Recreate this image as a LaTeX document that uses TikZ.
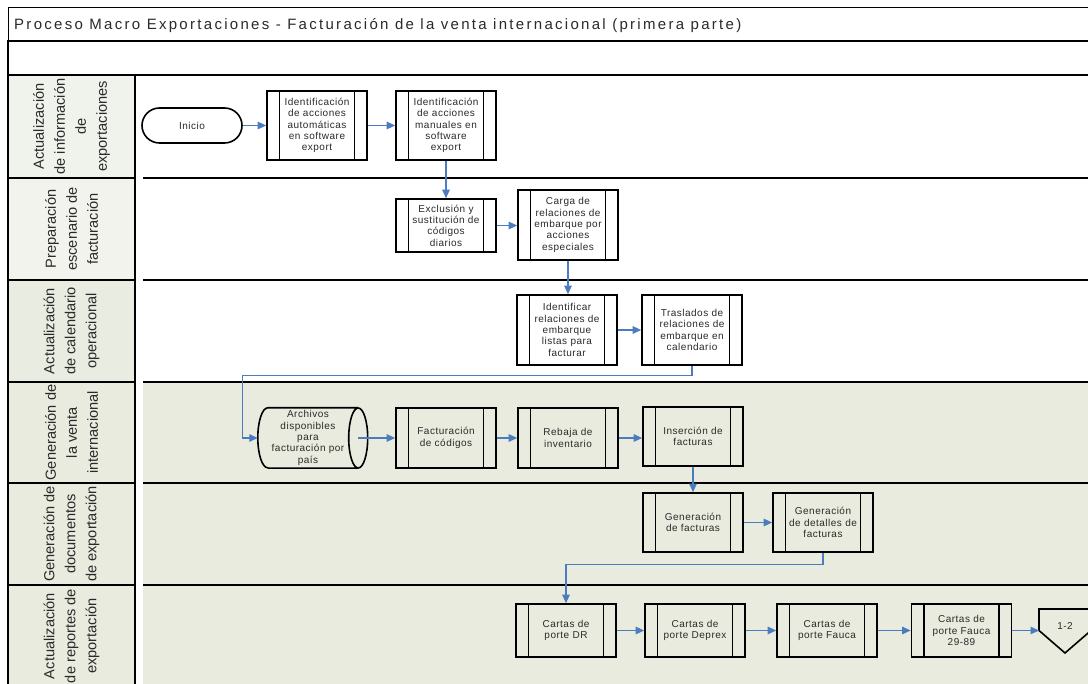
\documentclass[tikz,border=0pt]{standalone}
\usepackage{fontspec}
\setmainfont{Liberation Sans}
\newfontfamily\procfont[LetterSpace=5]{Liberation Sans}
\newfontfamily\headfont[LetterSpace=15.3]{Liberation Sans}
\usetikzlibrary{arrows.meta}

\definecolor{flowblue}{HTML}{4A7DC0}
\definecolor{swimfill}{HTML}{E9EBDE}
\definecolor{labelA}{HTML}{F0F3EC}
\definecolor{labelB}{HTML}{F3F3EE}
\definecolor{labelC}{HTML}{E9ECE0}
\definecolor{inkgray}{HTML}{2A2A2A}

\begin{document}
\begin{tikzpicture}[x=1pt,y=1pt,
  proc/.style={draw=black, line width=1.6pt, minimum width=100pt, minimum height=#1,
    inner sep=0pt, align=center, text=inkgray,
    font=\procfont\fontsize{10}{11.3}\selectfont,
    path picture={
      \draw[line width=1.6pt]
        ([xshift=12.5pt]path picture bounding box.north west) --
        ([xshift=12.5pt]path picture bounding box.south west)
        ([xshift=-12.5pt]path picture bounding box.north east) --
        ([xshift=-12.5pt]path picture bounding box.south east);}},
  proc/.default=60pt,
  terminal/.style={draw=black, line width=1.6pt, minimum width=100pt, minimum height=35pt,
    rounded corners=17.5pt, inner sep=0pt, text=inkgray,
    font=\procfont\fontsize{10}{11.3}\selectfont},
  plain/.style={inner sep=0pt, align=center, text=inkgray,
    font=\procfont\fontsize{10}{11.3}\selectfont},
  lanelabel/.style={rotate=90, align=center, inner sep=0pt, text=inkgray,
    font=\fontsize{14.6}{21}\selectfont},
  laneframe/.style={draw=black, line width=2.3pt},
  sepline/.style={draw=black, line width=2.5pt},
  flow/.style={draw=flowblue, line width=1.3pt, -{Triangle[length=8.5pt,width=7.5pt]}},
]
\useasboundingbox (0,0) rectangle (1088,-684);
\clip (0,0) rectangle (1088,-684);

% --- backgrounds of the swimlanes ---
\fill[white] (0,0) rectangle (1088,-684);
\fill[swimfill] (143,-382) rectangle (1100,-700);
\path[laneframe, fill=labelA] (8,-75) rectangle (135,-178);
\path[laneframe, fill=labelB] (8,-178) rectangle (135,-280);
\path[laneframe, fill=labelC] (8,-280) rectangle (135,-382);
\path[laneframe, fill=swimfill] (8,-382) rectangle (135,-483);
\path[laneframe, fill=swimfill] (8,-483) rectangle (135,-585);
\path[laneframe, fill=swimfill] (8,-585) rectangle (135,-700);

% --- header rows ---
\draw[line width=0.9pt] (8,-41) |- (1100,-7);
\draw[sepline] (7,-41) -- (1100,-41);
\draw[line width=2pt] (8,-41) -- (8,-75);
\draw[sepline] (7,-75) -- (1100,-75);

% --- lane separators in the main area ---
\foreach \yy in {178,280,382,483,585}
  \draw[sepline] (143,-\yy) -- (1100,-\yy);

\node[anchor=base west, inner sep=0pt, text=inkgray, font=\headfont\fontsize{15}{17}\selectfont]
  (title) at (14,-30) {Proceso Macro Exportaciones - Facturación de la venta internacional (primera parte)};

% --- lane labels ---
\node[lanelabel] (lane1) at (71.5,-126.5) {Actualización\\de información\\de\\exportaciones};
\node[lanelabel] (lane2) at (71.5,-229) {Preparación\\escenario de\\facturación};
\node[lanelabel] (lane3) at (71.5,-331) {Actualización\\de calendario\\operacional};
\node[lanelabel] (lane4) at (71.5,-432.5) {Generación de\\la venta\\internacional};
\node[lanelabel] (lane5) at (71.5,-534) {Generación de\\documentos\\de exportación};
\node[lanelabel] (lane6) at (71.5,-636) {Actualización\\de reportes de\\exportación};

% --- process steps ---
\node[terminal] (inicio) at (192,-125.5) {Inicio};
\node[proc=69pt] (auto) at (317,-125.5) {Identificación\\de acciones\\automáticas\\en software\\export};
\node[proc=69pt] (manual) at (446,-125.5) {Identificación\\de acciones\\manuales en\\software\\export};
\node[proc=53pt] (exclu) at (446,-225.5) {Exclusión y\\sustitución de\\códigos\\diarios};
\node[proc=70pt] (carga) at (568,-225) {Carga de\\relaciones de\\embarque por\\acciones\\especiales};
\node[proc=70pt] (ident) at (567,-330) {Identificar\\relaciones de\\embarque\\listas para\\facturar};
\node[proc=70pt] (trasl) at (692,-330) {Traslados de\\relaciones de\\embarque en\\calendario};

% stored data: horizontal cylinder
\node[plain, minimum width=100pt, minimum height=60pt] (arch) at (308,-438)
  {Archivos\\disponibles\\para\\facturación por\\país};
\draw[line width=1.6pt]
  ([xshift=10pt]arch.north west) -- (arch.north east)
  ([xshift=10pt]arch.south west) -- (arch.south east)
  (arch.east) ellipse [x radius=9.5pt, y radius=30pt]
  ([xshift=10pt]arch.north west) arc[start angle=90, end angle=270, x radius=10pt, y radius=30pt];

\node[proc=60pt] (factcod) at (446,-438) {Facturación\\de códigos};
\node[proc=60pt] (rebaja) at (568,-438) {Rebaja de\\inventario};
\node[proc=59pt] (insert) at (693,-436.5) {Inserción de\\facturas};
\node[proc=59pt] (genfact) at (693,-522.5) {Generación\\de facturas};
\node[proc=59pt] (gendet) at (823,-522.5) {Generación\\de detalles de\\facturas};
\node[proc=53pt] (cdr) at (566,-630.5) {Cartas de\\porte DR};
\node[proc=53pt] (cdeprex) at (695,-630.5) {Cartas de\\porte Deprex};
\node[proc=53pt] (cfauca) at (827,-630.5) {Cartas de\\porte Fauca};
\node[proc=53pt] (cfauca2) at (961.5,-630.5) {Cartas de\\porte Fauca\\29-89};

% off-page reference
\node[plain] (offpage) at (1065,-626) {1-2};
\draw[line width=1.6pt]
  ([shift={(-26pt,17pt)}]offpage.center) -- ([shift={(26pt,17pt)}]offpage.center) --
  ([shift={(26pt,-4.5pt)}]offpage.center) -- ([shift={(0pt,-27pt)}]offpage.center) --
  ([shift={(-26pt,-4.5pt)}]offpage.center) -- cycle;
\coordinate (offin) at ([shift={(-26pt,-4.5pt)}]offpage.center);

% --- connectors ---
\draw[flow] (inicio.east) -- (auto.west);
\draw[flow] (auto.east) -- (manual.west);
\draw[flow] (manual.south) -- (exclu.north);
\draw[flow] (exclu.east) -- (exclu.east -| carga.west);
\draw[flow] (carga.south) -- (carga.south |- ident.north);
\draw[flow] (ident.east) -- (trasl.west);
\draw[flow] (trasl.south) -- ++(0,-10) -| ([xshift=-15pt]arch.west) -- (arch.west);
\draw[flow] (arch.east) -- (factcod.west);
\draw[flow] (factcod.east) -- (rebaja.west);
\draw[flow] (rebaja.east) -- (rebaja.east -| insert.west);
\draw[flow] (insert.south) -- (genfact.north);
\draw[flow] (genfact.east) -- (gendet.west);
\draw[flow] (gendet.south) -- ++(0,-12) -| (cdr.north);
\draw[flow] (cdr.east) -- (cdeprex.west);
\draw[flow] (cdeprex.east) -- (cfauca.west);
\draw[flow] (cfauca.east) -- (cfauca2.west);
\draw[flow] (cfauca2.east) -- (offin);
\end{tikzpicture}
\end{document}
